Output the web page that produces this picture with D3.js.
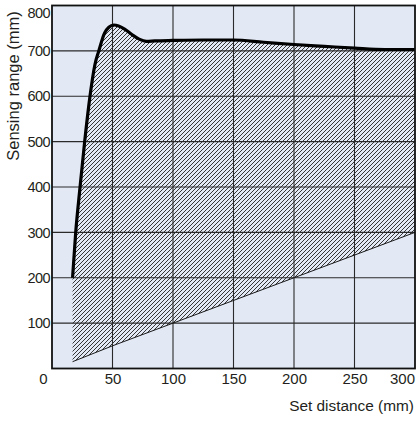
<!DOCTYPE html>
<html>
<head>
<meta charset="utf-8">
<script src="https://cdn.jsdelivr.net/npm/d3@7"></script>
<style>
  html, body { margin: 0; padding: 0; background: #fff; }
  svg text { font-family: "Liberation Sans", Arial, Helvetica, sans-serif; fill: #231f20; }
</style>
</head>
<body>
<svg id="chart" width="416" height="421"></svg>
<script>
// Upper limit of the sensing range (set distance mm, sensing range mm)
const upperX = [17, 19.6, 23.2, 27, 31.4, 35.5, 38.7, 43.4, 47, 51, 55, 60, 66, 72, 78, 85, 100, 125, 150, 175, 200, 225, 250, 275, 300];
const upperY = [200, 300, 400, 500, 600, 670, 700, 739, 752, 757, 755, 748, 736, 726, 721, 722, 723, 724, 724, 719, 714, 710, 706, 703, 703];

// Lower limit of the sensing range
const lowerX = [17, 50, 100, 200, 300];
const lowerY = [15, 50, 100, 200, 300];

// Axis ticks
const xTicks = [0, 50, 100, 150, 200, 250, 300];
const yTicks = [100, 200, 300, 400, 500, 600, 700, 800];
const xGrid = [50, 100, 150, 200, 250];
const yGrid = [100, 200, 300, 400, 500, 600, 700];

const svg = d3.select("#chart");
const x = d3.scaleLinear().domain([0, 300]).range([52, 415]);
const y = d3.scaleLinear().domain([0, 800]).range([368.5, 5.5]);

const upper = upperX.map((v, i) => [v, upperY[i]]);
const lower = lowerX.map((v, i) => [v, lowerY[i]]);

// Diagonal hatch pattern
const defs = svg.append("defs");
const pat = defs.append("pattern")
  .attr("id", "hatch")
  .attr("patternUnits", "userSpaceOnUse")
  .attr("width", 4).attr("height", 4);
pat.append("path")
  .attr("d", "M-1,1 L1,-1 M0,4 L4,0 M3,5 L5,3")
  .attr("stroke", "#2b2b2b")
  .attr("stroke-width", 0.95);

// Plot background
svg.append("rect")
  .attr("x", x(0)).attr("y", y(800))
  .attr("width", x(300) - x(0)).attr("height", y(0) - y(800))
  .attr("fill", "#e2e8f4");

// Hatched region between the two limits
const upperLine = d3.line().x(d => x(d[0])).y(d => y(d[1])).curve(d3.curveMonotoneX);
const lowerRev = lower.slice().reverse();
const areaPath = upperLine(upper) + lowerRev.map(d => "L" + x(d[0]) + "," + y(d[1])).join("") + "Z";
svg.append("path")
  .attr("d", areaPath)
  .attr("fill", "url(#hatch)");

// Grid lines
const grid = svg.append("g").attr("stroke", "#2a2a2a").attr("stroke-width", 1.1);
grid.selectAll("line.v").data(xGrid).join("line")
  .attr("x1", d => x(d)).attr("x2", d => x(d))
  .attr("y1", y(0)).attr("y2", y(800));
grid.selectAll("line.h").data(yGrid).join("line")
  .attr("x1", x(0)).attr("x2", x(300))
  .attr("y1", d => y(d)).attr("y2", d => y(d));

// Lower limit line
svg.append("path")
  .attr("d", d3.line().x(d => x(d[0])).y(d => y(d[1]))(lower))
  .attr("fill", "none").attr("stroke", "#1a1a1a").attr("stroke-width", 1);

// Upper limit curve
svg.append("path")
  .attr("d", upperLine(upper))
  .attr("fill", "none").attr("stroke", "#000").attr("stroke-width", 3.2)
  .attr("stroke-linejoin", "round").attr("stroke-linecap", "butt");

// Frame
svg.append("rect")
  .attr("x", x(0)).attr("y", y(800))
  .attr("width", x(300) - x(0)).attr("height", y(0) - y(800))
  .attr("fill", "none").attr("stroke", "#111").attr("stroke-width", 1.8);

// Axes
const xAxis = svg.append("g")
  .attr("transform", `translate(0,${y(0)})`)
  .call(d3.axisBottom(x).tickValues(xTicks).tickSize(0).tickPadding(5).tickFormat(d3.format("d")));
xAxis.select(".domain").remove();
xAxis.selectAll("text").attr("font-size", 15).attr("fill", "#231f20")
  .attr("dx", d => d === 0 ? -9 : d === 300 ? -13 : 0);

const yAxis = svg.append("g")
  .attr("transform", `translate(${x(0)},0)`)
  .call(d3.axisLeft(y).tickValues(yTicks).tickSize(0).tickPadding(2).tickFormat(d3.format("d")));
yAxis.select(".domain").remove();
yAxis.selectAll("text").attr("font-size", 14.5).attr("letter-spacing", -0.6).attr("fill", "#231f20")
  .attr("dy", d => d === 800 ? "0.85em" : "0.32em");

// Axis titles
svg.append("text")
  .attr("x", 414).attr("y", 411)
  .attr("text-anchor", "end").attr("font-size", 15.4)
  .text("Set distance (mm)");
svg.append("text")
  .attr("transform", "translate(19,86) rotate(-90)")
  .attr("text-anchor", "middle").attr("font-size", 16.5)
  .text("Sensing range (mm)");
</script>
</body>
</html>
